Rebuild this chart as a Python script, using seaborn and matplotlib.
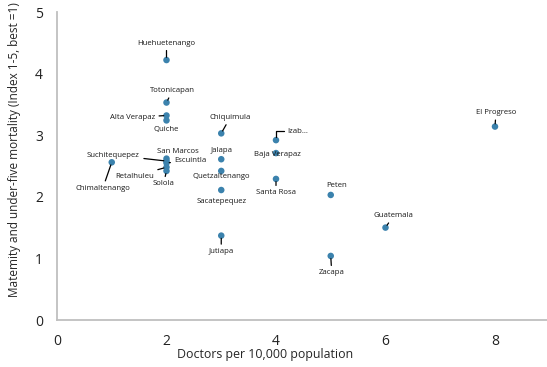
import matplotlib
matplotlib.use("Agg")
import matplotlib.pyplot as plt
import seaborn as sns
import pandas as pd

departments = ["Huehuetenango", "Totonicapan", "Alta Verapaz", "Quiche", "Chiquimula",
               "Izab...", "Baja Verapaz", "Jalapa", "Quetzaltenango", "Sacatepequez",
               "Santa Rosa", "Peten", "Guatemala", "Jutiapa", "Zacapa", "El Progreso",
               "Chimaltenango", "Suchitequepez", "San Marcos", "Escuintla", "Retalhuleu", "Solola"]
doctors = [2, 2, 2, 2, 3, 4, 4, 3, 3, 3, 4, 5, 6, 3, 5, 8, 1, 2, 2, 2, 2, 2]
mortality = [4.22, 3.53, 3.32, 3.24, 3.03, 2.92, 2.71, 2.61, 2.42, 2.11, 2.29, 2.03,
             1.50, 1.37, 1.04, 3.14, 2.56, 2.58, 2.62, 2.55, 2.48, 2.42]

df = pd.DataFrame({"dept": departments, "doctors": doctors, "mortality": mortality})

# label layout: (dx, dy) offset in pixels, leader line style (None = no leader)
label_layout = {
    "Huehuetenango": (0, 17, "arc3"), "Totonicapan": (6, 12, "arc3"), "Alta Verapaz": (-34, -2, "arc3"),
    "Quiche": (0, -9, None), "Chiquimula": (9, 16, "arc3"),
    "Izab...": (22, 9, "angle,angleA=0,angleB=90,rad=0"),
    "Baja Verapaz": (1, -1, None), "Jalapa": (0, 9, None), "Quetzaltenango": (0, -6, None),
    "Sacatepequez": (0, -11, None), "Santa Rosa": (0, -14, "arc3"), "Peten": (6, 9, None),
    "Guatemala": (8, 12, "arc3"), "Jutiapa": (0, -16, "arc3"), "Zacapa": (1, -17, "arc3"),
    "El Progreso": (1, 14, "arc3"), "Chimaltenango": (-9, -26, "arc3"), "Suchitequepez": (-53, 6, "arc3"),
    "San Marcos": (11, 7, None), "Escuintla": (24, 2, "arc3"), "Retalhuleu": (-32, -9, "arc3"),
    "Solola": (-3, -13, "arc3"),
}

sns.set_style("white")
plt.rcParams["font.family"] = ["Open Sans", "DejaVu Sans"]

fig = plt.figure(figsize=(5.47, 3.67), dpi=100)
ax = fig.add_axes([57 / 547, 1 - 320 / 367, 1 - 57 / 547, (320 - 12) / 367])

sns.scatterplot(data=df, x="doctors", y="mortality", ax=ax, color="#3b82ad",
                s=22, edgecolor="none", zorder=3)

for name, x, y in zip(departments, doctors, mortality):
    dx, dy, leader = label_layout[name]
    kw = {}
    if leader:
        kw["arrowprops"] = dict(arrowstyle="-", color="black", lw=0.9, shrinkA=0.5, shrinkB=2,
                                connectionstyle=leader)
    ax.annotate(name, (x, y), xytext=(dx, dy), textcoords="offset pixels",
                ha="center", va="center", fontsize=5.6, color="#1a1a1a", zorder=4, **kw)

ax.set_xlim(0, 8.95)
ax.set_ylim(0, 5)
ax.set_xticks([0, 2, 4, 6, 8])
ax.set_yticks([0, 1, 2, 3, 4, 5])
ax.set_xlabel("Doctors per 10,000 population", fontsize=8.9)
ax.set_ylabel("Matemity and under-five mortality (Index 1-5, best =1)", fontsize=8.5)
ax.xaxis.set_label_coords((265 - 57) / 490, -(348 - 320) / 308)
ax.yaxis.set_label_coords(-(57 - 21) / 490, (320 - 150) / 308)
ax.tick_params(axis="both", direction="in", length=4, width=0.8, color="#bfbfbf",
               labelsize=10, colors="#bfbfbf", labelcolor="#222222")
ax.tick_params(axis="x", pad=10)
ax.tick_params(axis="y", pad=10)
for side in ["top", "right"]:
    ax.spines[side].set_visible(False)
for side in ["left", "bottom"]:
    ax.spines[side].set_color("#bfbfbf")
    ax.spines[side].set_linewidth(1.3)

fig.savefig("out.png", dpi=100)
